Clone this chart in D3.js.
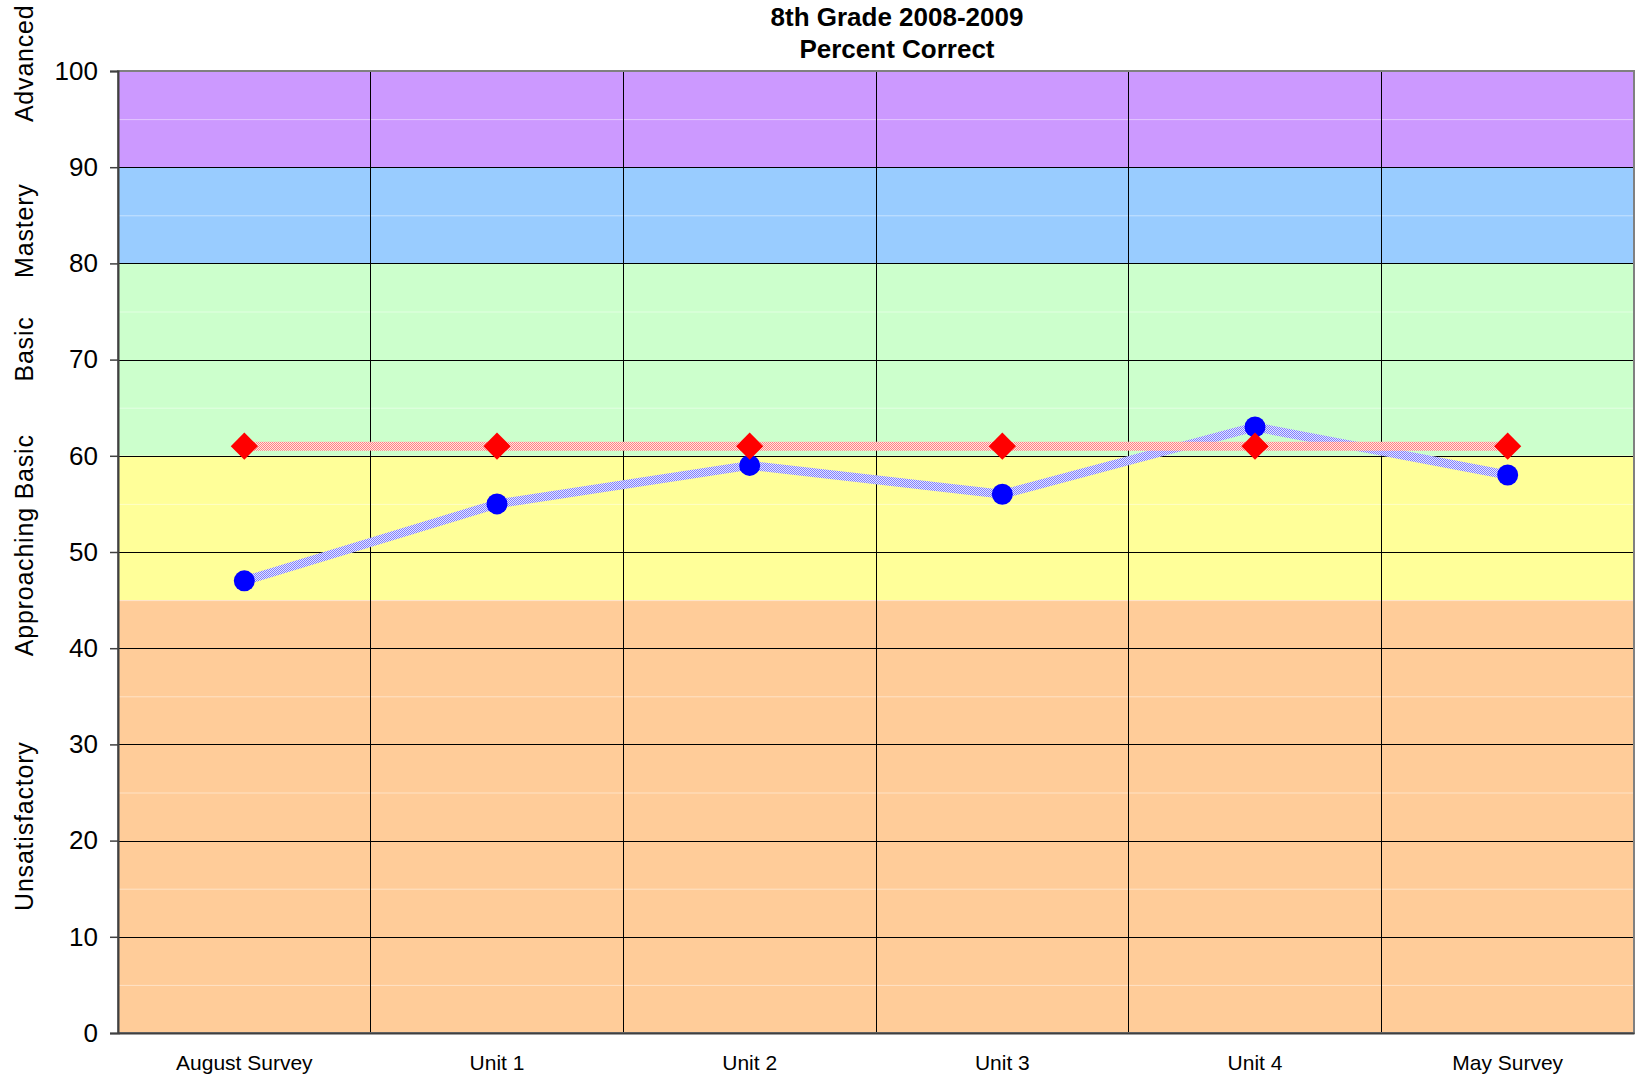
<!DOCTYPE html>
<html>
<head>
<meta charset="utf-8">
<script src="https://cdn.jsdelivr.net/npm/d3@7"></script>
<style>
  body { margin: 0; background: #fff; }
  svg { display: block; font-family: Arial, "Liberation Sans", sans-serif; }
</style>
</head>
<body>
<script>
// chart data
const categories = ["August Survey", "Unit 1", "Unit 2", "Unit 3", "Unit 4", "May Survey"];
const scores = [47, 55, 59, 56, 63, 58];
const target = [61, 61, 61, 61, 61, 61];
const yTicks = [0, 10, 20, 30, 40, 50, 60, 70, 80, 90, 100];
const minorTicks = [5, 15, 25, 35, 45, 55, 65, 75, 85, 95];

// performance bands: [from, to, color]
const bandFrom = [90, 80, 60, 45, 0];
const bandTo = [100, 90, 80, 60, 45];
const bandColors = ["#cc99ff", "#99ccff", "#ccffcc", "#ffff99", "#ffcc99"];
const bandNames = ["Advanced", "Mastery", "Basic", "Approaching Basic", "Unsatisfactory"];
const bandLabelAt = [100.8, 83.4, 71.1, 50.7, 21.5];

const width = 1639;
const height = 1086;
const margin = { top: 71, right: 5, bottom: 53, left: 118 };

const svg = d3.select("body").append("svg")
  .attr("width", width)
  .attr("height", height);

const x = d3.scaleBand()
  .domain(categories)
  .range([margin.left, width - margin.right]);

const y = d3.scaleLinear()
  .domain([0, 100])
  .range([height - margin.bottom, margin.top]);

// dithered line patterns (like the old excel look)
const defs = svg.append("defs");
function dither(id, dark, light) {
  const p = defs.append("pattern")
    .attr("id", id)
    .attr("patternUnits", "userSpaceOnUse")
    .attr("width", 2).attr("height", 2);
  p.append("rect").attr("width", 2).attr("height", 2).attr("fill", light);
  p.append("rect").attr("width", 1).attr("height", 1).attr("fill", dark);
  p.append("rect").attr("x", 1).attr("y", 1).attr("width", 1).attr("height", 1).attr("fill", dark);
}
dither("blueDots", "#7f7fff", "#e4e4ff");
dither("redDots", "#ff7f7f", "#ffe4e4");

// background bands
svg.selectAll("rect.band")
  .data(bandFrom)
  .enter()
  .append("rect")
  .attr("class", "band")
  .attr("x", margin.left)
  .attr("width", width - margin.right - margin.left)
  .attr("y", (d, i) => y(bandTo[i]))
  .attr("height", (d, i) => y(d) - y(bandTo[i]))
  .attr("fill", (d, i) => bandColors[i]);

// faint minor lines
svg.selectAll("line.minor")
  .data(minorTicks)
  .enter()
  .append("line")
  .attr("x1", margin.left)
  .attr("x2", width - margin.right)
  .attr("y1", d => y(d) + 0.5)
  .attr("y2", d => y(d) + 0.5)
  .attr("stroke", "rgba(255,255,255,0.45)")
  .attr("stroke-width", 1);

// major gridlines
svg.append("g")
  .attr("transform", "translate(" + margin.left + ",0)")
  .call(d3.axisLeft(y).tickValues(yTicks).tickSize(-(width - margin.right - margin.left)).tickFormat(""))
  .call(g => g.select(".domain").remove())
  .selectAll("line")
  .attr("stroke", "#000")
  .attr("stroke-width", 1)
  .attr("shape-rendering", "crispEdges");

// vertical lines between categories
svg.selectAll("line.vgrid")
  .data(categories.slice(1))
  .enter()
  .append("line")
  .attr("x1", d => x(d))
  .attr("x2", d => x(d))
  .attr("y1", y(100))
  .attr("y2", y(0))
  .attr("stroke", "#000")
  .attr("stroke-width", 1)
  .attr("shape-rendering", "crispEdges");

// plot frame
svg.append("rect")
  .attr("x", margin.left)
  .attr("y", y(100))
  .attr("width", width - margin.right - margin.left)
  .attr("height", y(0) - y(100))
  .attr("fill", "none")
  .attr("stroke", "#808080")
  .attr("stroke-width", 2);

// y axis
const yAxis = svg.append("g")
  .attr("transform", "translate(" + margin.left + ",0)")
  .call(d3.axisLeft(y).tickValues(yTicks).tickSize(8).tickPadding(12));
yAxis.select(".domain").attr("stroke", "#404040").attr("stroke-width", 2);
yAxis.selectAll("line").attr("stroke", "#404040").attr("stroke-width", 1.5);
yAxis.selectAll("text")
  .attr("font-size", 26)
  .attr("font-family", "Arial, 'Liberation Sans', sans-serif")
  .attr("fill", "#000");

// x axis
const xAxis = svg.append("g")
  .attr("transform", "translate(0," + y(0) + ")")
  .call(d3.axisBottom(x).tickSize(0).tickPadding(22));
xAxis.select(".domain").attr("stroke", "#404040").attr("stroke-width", 2);
xAxis.selectAll("text")
  .attr("font-size", 21)
  .attr("font-family", "Arial, 'Liberation Sans', sans-serif")
  .attr("fill", "#000");

// band names on the left
svg.selectAll("text.bandName")
  .data(bandNames)
  .enter()
  .append("text")
  .attr("transform", (d, i) => "translate(33," + y(bandLabelAt[i]) + ") rotate(-90)")
  .attr("text-anchor", "middle")
  .attr("font-size", 25)
  .attr("letter-spacing", 0.8)
  .text(d => d);

// lines + markers
const line = d3.line()
  .x((d, i) => x(categories[i]) + x.bandwidth() / 2)
  .y(d => y(d));

svg.append("path")
  .datum(scores)
  .attr("d", line)
  .attr("fill", "none")
  .attr("stroke", "url(#blueDots)")
  .attr("stroke-width", 9);

svg.selectAll("circle.score")
  .data(scores)
  .enter()
  .append("circle")
  .attr("cx", (d, i) => x(categories[i]) + x.bandwidth() / 2)
  .attr("cy", d => y(d))
  .attr("r", 10.5)
  .attr("fill", "#0000ff");

svg.append("path")
  .datum(target)
  .attr("d", line)
  .attr("fill", "none")
  .attr("stroke", "url(#redDots)")
  .attr("stroke-width", 9);

svg.selectAll("path.diamond")
  .data(target)
  .enter()
  .append("path")
  .attr("d", d3.symbol().type(d3.symbolDiamond2).size(470))
  .attr("transform", (d, i) => "translate(" + (x(categories[i]) + x.bandwidth() / 2) + "," + y(d) + ")")
  .attr("fill", "#ff0000");

// title
const title = svg.append("text")
  .attr("x", 897)
  .attr("text-anchor", "middle")
  .attr("font-size", 26)
  .attr("font-weight", "bold");
title.append("tspan").attr("x", 897).attr("y", 26).text("8th Grade 2008-2009");
title.append("tspan").attr("x", 897).attr("y", 58).text("Percent Correct");
</script>
</body>
</html>
